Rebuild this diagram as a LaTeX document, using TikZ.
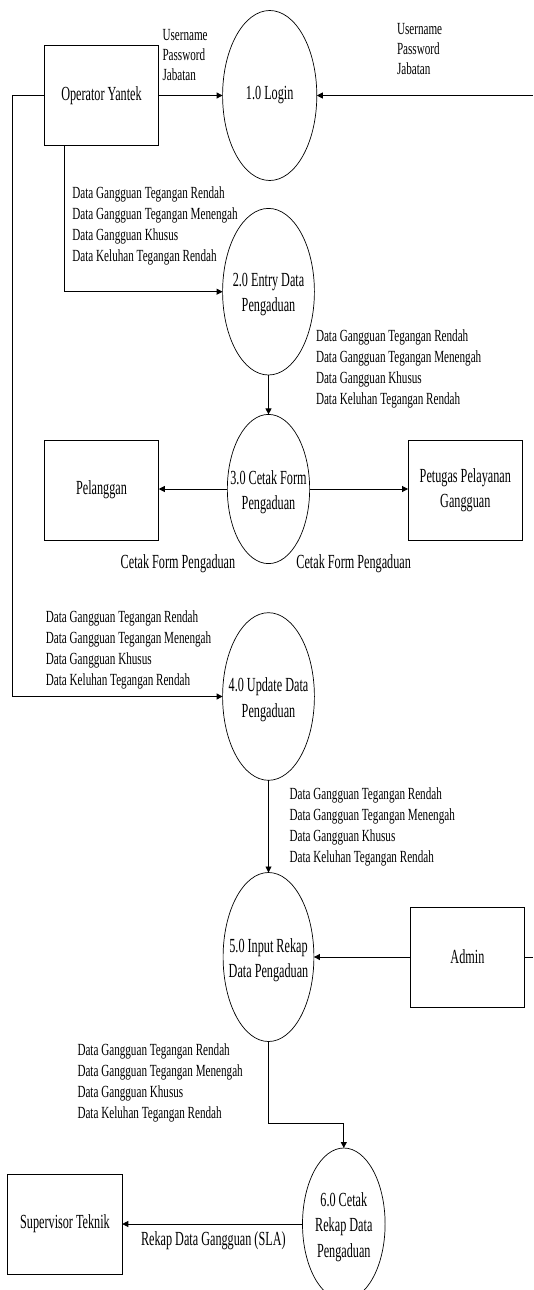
\documentclass[tikz,border=0pt]{standalone}
\usepackage{fontspec}
\setmainfont{Liberation Serif}
\newfontfamily\bigfont[FakeStretch=0.61]{Liberation Serif}
\newfontfamily\smallfont[FakeStretch=0.655]{Liberation Serif}
\usetikzlibrary{arrows.meta,shapes.geometric}
\begin{document}
\begin{tikzpicture}[x=1pt,y=-1pt,
  every node/.style={inner sep=0pt, outer sep=0pt},
  bigtext/.style={font=\bigfont\fontsize{20}{25.5}\selectfont, align=center},
  smalltext/.style={font=\smallfont\fontsize{17}{21}\selectfont},
  entity/.style={draw, line width=0.9pt, minimum width=114.5pt, minimum height=100pt, bigtext},
  proc/.style 2 args={draw, ellipse, line width=0.7pt, minimum width=#1pt, minimum height=#2pt},
  ptext/.style={label={[bigtext, yshift=-3pt]center:{#1}}},
  flow/.style={line width=0.9pt, -{Triangle[length=6pt,width=6pt]}},
  plainline/.style={line width=0.9pt},
  lbl/.style={smalltext, align=left, anchor=base west},
  lblb/.style={font=\bigfont\fontsize{20}{25.5}\selectfont, anchor=base west},
]
\useasboundingbox (0,0) rectangle (533,1290);

% entities
\node[entity] (op) at (101.5,95.5) {Operator Yantek};
\node[entity] (pel) at (101.5,490) {Pelanggan};
\node[entity, align=center] (pet) at (465.3,490) {Petugas Pelayanan\\Gangguan};
\node[entity] (admin) at (467.4,957) {Admin};
\node[entity] (sup) at (65,1224) {Supervisor Teknik};

% processes
\node[proc={94.2}{170}, label={[bigtext]center:1.0 Login}] (login) at (269.7,95.5) {};
\node[proc={91.8}{166.6}, ptext={2.0 Entry Data\\Pengaduan}] (entry) at (268.5,291.7) {};
\node[proc={82.3}{149.2}, ptext={3.0 Cetak Form\\Pengaduan}] (cetak) at (268.5,489) {};
\node[proc={91.8}{167.6}, ptext={4.0 Update Data\\Pengaduan}] (upd) at (268.5,696.5) {};
\node[proc={90.8}{169}, ptext={5.0 Input Rekap\\Data Pengaduan}] (inp) at (268.5,957) {};
\node[proc={82.6}{152}, ptext={6.0 Cetak\\Rekap Data\\Pengaduan}] (rek) at (343.8,1224) {};

% free ends
\coordinate (rin) at (533,95.5);
\coordinate (lc) at (12.6,95.5);
\coordinate (rout) at (533,957);

% connectors
\draw[flow] (op.east) -- (login.west);
\draw[flow] (rin) -- (login.east);
\draw[flow] ([xshift=20.4pt]op.south west) |- (entry.west);
\draw[flow] (op.west) -- (lc) |- (upd.west);
\draw[flow] (entry.south) -- (cetak.north);
\draw[flow] (cetak.west) -- (cetak.west -| pel.east);
\draw[flow] (cetak.east) -- (cetak.east -| pet.west);
\draw[flow] (upd.south) -- (inp.north);
\draw[flow] (admin.west) -- (inp.east);
\draw[plainline] (admin.east) -- (rout);
\draw[flow] (inp.south) -- ++(0,82.2) -| (rek.north);
\draw[flow] (rek.west |- sup.east) -- (sup.east);

% labels (anchor = baseline of the last line)
\node[lbl, font=\smallfont\fontsize{17}{20.3}\selectfont] (l1) at (162.5,80.6) {Username\\Password\\Jabatan};
\node[lbl, font=\smallfont\fontsize{17}{20.3}\selectfont] (l2) at (397,74.9) {Username\\Password\\Jabatan};
\node[lbl] (l3) at (72.4,261.9) {Data Gangguan Tegangan Rendah\\Data Gangguan Tegangan Menengah\\Data Gangguan Khusus\\Data Keluhan Tegangan Rendah};
\node[lbl] (l4) at (316,404.8) {Data Gangguan Tegangan Rendah\\Data Gangguan Tegangan Menengah\\Data Gangguan Khusus\\Data Keluhan Tegangan Rendah};
\node[lblb] (l5) at (120.7,568.5) {Cetak Form Pengaduan};
\node[lblb] (l6) at (296.4,568.5) {Cetak Form Pengaduan};
\node[lbl] (l7) at (45.9,685.6) {Data Gangguan Tegangan Rendah\\Data Gangguan Tegangan Menengah\\Data Gangguan Khusus\\Data Keluhan Tegangan Rendah};
\node[lbl] (l8) at (289.6,862.5) {Data Gangguan Tegangan Rendah\\Data Gangguan Tegangan Menengah\\Data Gangguan Khusus\\Data Keluhan Tegangan Rendah};
\node[lbl] (l9) at (77.5,1118) {Data Gangguan Tegangan Rendah\\Data Gangguan Tegangan Menengah\\Data Gangguan Khusus\\Data Keluhan Tegangan Rendah};
\node[lblb] (l10) at (141,1245) {Rekap Data Gangguan (SLA)};
\end{tikzpicture}
\end{document}
